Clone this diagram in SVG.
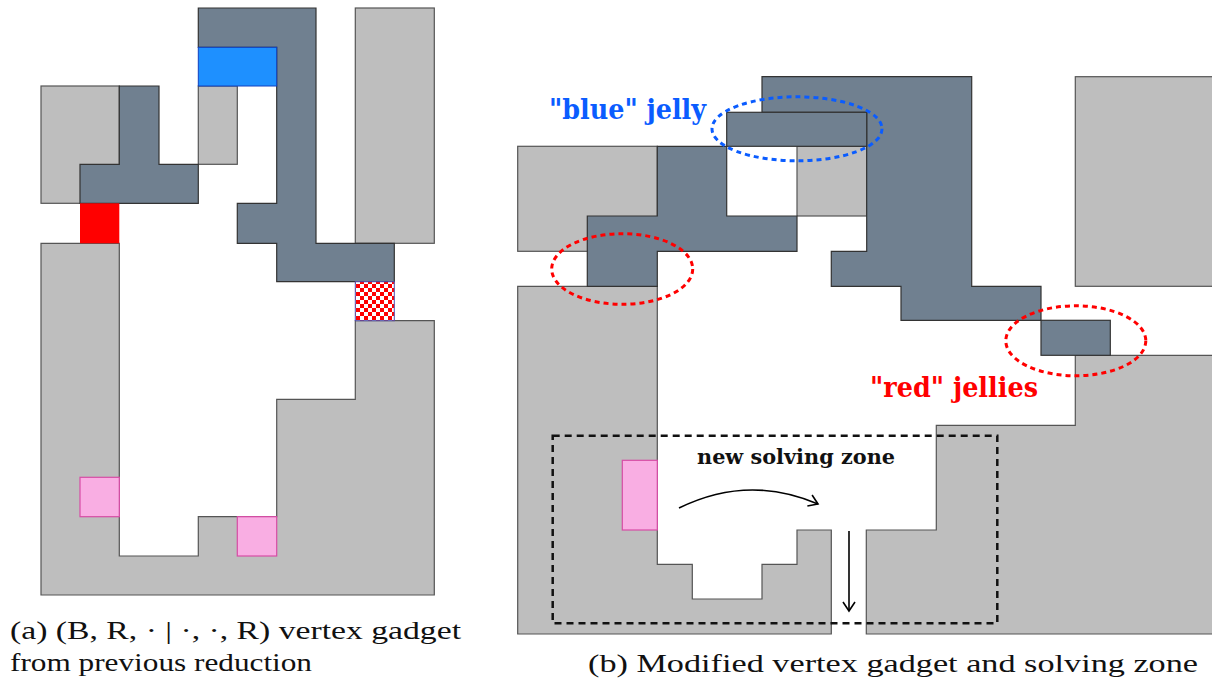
<svg xmlns="http://www.w3.org/2000/svg" width="1212" height="688" viewBox="0 0 1212 688">
<style>
.g{fill:#bebebe;stroke:#555;stroke-width:1.2}
.d{fill:#708090;stroke:#333;stroke-width:1.2}
.pk{fill:#f9aee3;stroke:#d84ca6;stroke-width:1.2}
.lbl{font-family:"DejaVu Serif","Liberation Serif",serif;font-weight:bold}
.cap{font-family:"Liberation Serif",serif;font-size:25px;fill:#111}
.arr{fill:none;stroke:#000;stroke-width:1.6}
</style>
<defs>
<pattern id="chk" width="8" height="8" patternUnits="userSpaceOnUse">
<rect width="8" height="8" fill="#fff"/>
<rect width="4" height="4" fill="#f00"/>
<rect x="4" y="4" width="4" height="4" fill="#f00"/>
</pattern>
<marker id="ah" markerWidth="14" markerHeight="14" refX="10" refY="7" orient="auto" markerUnits="userSpaceOnUse">
<path d="M1,1 L10,7 L1,13" fill="none" stroke="#000" stroke-width="1.6"/>
</marker>
</defs>

<g id="fig-a">
<rect id="a-gray-right" class="g" x="355.3" y="8" width="79" height="235.3"/>
<rect id="a-gray-tl" class="g" x="41" y="86" width="78.3" height="117.3"/>
<rect id="a-gray-small" class="g" x="198.3" y="86" width="39" height="78.3"/>
<polygon id="a-gray-bottom" class="g" points="41,243.3 119.3,243.3 119.3,556 198.3,556 198.3,516.7 276.7,516.7 276.7,399.3 355.3,399.3 355.3,320.7 434.3,320.7 434.3,595 41,595"/>
<polygon id="a-dark-t" class="d" points="119.3,86 159,86 159,164.3 198.3,164.3 198.3,203.3 80,203.3 80,164.3 119.3,164.3"/>
<polygon id="a-dark-snake" class="d" points="198.3,8 316,8 316,243.3 394.3,243.3 394.3,281.7 276.7,281.7 276.7,243.3 237.3,243.3 237.3,203.3 276.7,203.3 276.7,47.3 198.3,47.3"/>
<rect id="a-blue" x="198.3" y="47.3" width="78.4" height="38.7" fill="#1e90ff" stroke="#1040c0" stroke-width="1"/>
<rect id="a-red" x="80" y="203.3" width="39.3" height="40" fill="#ff0000"/>
<rect id="a-checker" x="355.3" y="281.7" width="39" height="39" fill="url(#chk)" stroke="#5050b0" stroke-width="1"/>
<rect id="a-pink1" class="pk" x="80" y="477.3" width="39.3" height="39.4"/>
<rect id="a-pink2" class="pk" x="237.3" y="516.7" width="39.4" height="39.3"/>
</g>

<g id="fig-b">
<rect id="b-gray-tl" class="g" x="517.7" y="146.3" width="139.6" height="105"/>
<rect id="b-gray-mid" class="g" x="797" y="146.3" width="69.7" height="69.7"/>
<rect id="b-gray-right" class="g" x="1075.3" y="76.7" width="140" height="209.6"/>
<polygon id="b-gray-bl" class="g" points="517.7,286.3 657.3,286.3 657.3,564.3 692.3,564.3 692.3,599 762,599 762,564.3 797,564.3 797,530 831.3,530 831.3,634 517.7,634"/>
<polygon id="b-gray-br" class="g" points="1075.3,355.3 1215,355.3 1215,634 866.3,634 866.3,530 936.3,530 936.3,425.3 1075.3,425.3"/>
<polygon id="b-dark-left" class="d" points="657.3,146.3 726.7,146.3 726.7,216 797,216 797,251.3 657.3,251.3 657.3,286.3 587.3,286.3 587.3,216 657.3,216"/>
<polygon id="b-dark-right" class="d" points="762,76.7 971.7,76.7 971.7,286.3 1041,286.3 1041,320.3 901,320.3 901,286.3 831.3,286.3 831.3,251.3 866.7,251.3 866.7,112.3 762,112.3"/>
<rect id="b-blue-jelly" class="d" x="726.7" y="112.3" width="140" height="34"/>
<rect id="b-red-jelly" class="d" x="1041" y="320.3" width="69.3" height="35"/>
<rect id="b-pink" class="pk" x="622.3" y="460.3" width="35" height="69.7"/>
<ellipse id="b-blue-ellipse" cx="797" cy="128.8" rx="85" ry="32" fill="none" stroke="#0a5cff" stroke-width="3" stroke-dasharray="5,4"/>
<ellipse id="b-red-ellipse1" cx="622.2" cy="269" rx="70.5" ry="35.3" fill="none" stroke="#ff0000" stroke-width="3" stroke-dasharray="5,4"/>
<ellipse id="b-red-ellipse2" cx="1075.8" cy="340.8" rx="70" ry="35" fill="none" stroke="#ff0000" stroke-width="3" stroke-dasharray="5,4"/>
<rect id="b-zone" x="552.7" y="435.7" width="444.6" height="187.6" fill="none" stroke="#111" stroke-width="2.5" stroke-dasharray="7,5"/>
<text class="lbl" x="549" y="119" font-size="28" fill="#0a5cff" textLength="157" lengthAdjust="spacingAndGlyphs">"blue" jelly</text>
<text class="lbl" x="870" y="397" font-size="28" fill="#ff0000" textLength="168" lengthAdjust="spacingAndGlyphs">"red" jellies</text>
<text class="lbl" x="697" y="464" font-size="20" fill="#111" textLength="198" lengthAdjust="spacingAndGlyphs">new solving zone</text>
</g>

<g id="connectors">
<path class="arr" d="M679,508 Q748,474 818,504" marker-end="url(#ah)"/>
<path class="arr" d="M849,531 L849,611" marker-end="url(#ah)"/>
</g>

<g id="captions">
<text class="cap" x="10" y="639" textLength="451" lengthAdjust="spacingAndGlyphs">(a) (B, R, · | ·, ·, R) vertex gadget</text>
<text class="cap" x="10" y="671" textLength="302" lengthAdjust="spacingAndGlyphs">from previous reduction</text>
<text class="cap" x="588" y="672" textLength="610" lengthAdjust="spacingAndGlyphs">(b) Modified vertex gadget and solving zone</text>
</g>
</svg>
